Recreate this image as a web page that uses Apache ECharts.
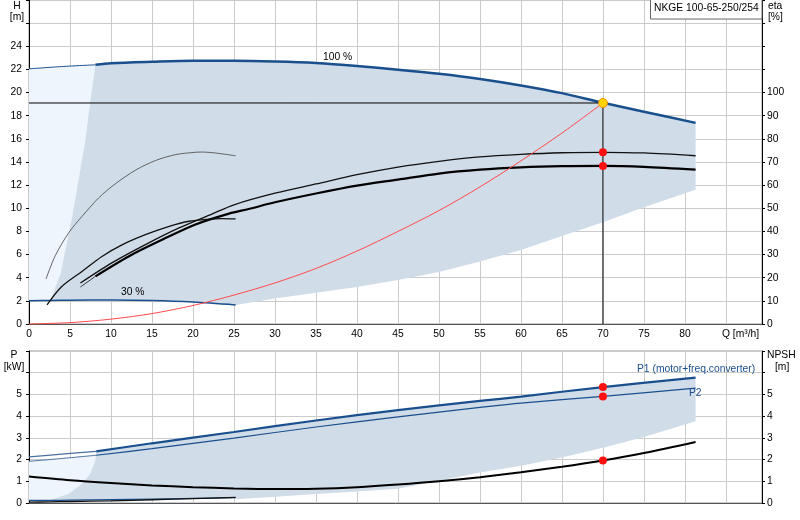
<!DOCTYPE html>
<html>
<head>
    <meta charset="utf-8">
    <style>
        html, body { margin: 0; padding: 0; background: #fff; }
        #chart-container { width: 800px; height: 520px; }
    </style>
</head>
<body>
    <div id="chart-container"></div>

    <script src="https://cdn.jsdelivr.net/npm/echarts@6/dist/echarts.min.js"></script>
    <script>
        // ---- head curves (H in m) ----
        var qHead100 = [0, 4, 8.1, 10, 15, 20, 25, 30, 35, 40, 45, 50, 55, 60, 65, 70, 75, 81.3];
        var head100  = [22.05, 22.25, 22.4, 22.54, 22.66, 22.74, 22.74, 22.68, 22.55, 22.3, 21.98, 21.62, 21.18, 20.62, 19.95, 19.12, 18.35, 17.38];
        var qHead30  = [0, 2.6, 5, 10, 15, 20, 25.2];
        var head30   = [2.02, 2.04, 2.06, 2.07, 2.03, 1.9, 1.65];

        // system curve
        var qSys = [0, 5, 10, 15, 20, 25, 30, 35, 40, 45, 50, 55, 60, 65, 70];
        var hSys = [0, 0.12, 0.42, 0.9, 1.6, 2.5, 3.55, 4.8, 6.3, 8.0, 9.8, 11.85, 14.1, 16.5, 19.1];

        // ---- efficiency curves (eta in %) ----
        var qEtaPump = [6.27, 10.1, 14.2, 18.3, 22.3, 25, 30, 35, 40, 45, 50, 55, 60, 65, 70, 75, 81.3];
        var etaPump  = [17.7, 26.4, 34.3, 41.5, 47.5, 51.5, 56.5, 60.5, 64.5, 67.8, 70.3, 72.2, 73.3, 74.0, 74.2, 73.9, 72.7];
        var qEtaTot  = [6.27, 8.1, 12.2, 16.3, 20.3, 24.4, 26.8, 30, 35, 40, 45, 50, 55, 60, 65, 70, 75, 81.3];
        var etaTot   = [16.0, 20.6, 29.3, 36.5, 43.0, 47.7, 49.7, 52.6, 56.4, 59.8, 62.4, 65.0, 66.7, 67.7, 68.2, 68.3, 67.9, 66.7];
        var qEta30Pump = [2.08, 3.2, 4.84, 6.47, 8.5, 10.5, 13, 15.4, 17.9, 20.3, 21.2, 22.7, 25.2];
        var eta30Pump  = [19.5, 29.5, 39.4, 46.5, 54.5, 60.5, 66.5, 70.6, 73.2, 74.2, 74.3, 73.9, 72.7];
        var qEta30Tot  = [2.2, 4.0, 6.5, 8.9, 11.4, 14.2, 17.1, 19.5, 21.95, 23.5, 25.2];
        var eta30Tot   = [8.3, 16.2, 22.8, 29.2, 34.3, 38.6, 42.2, 44.4, 45.3, 45.5, 45.4];

        // operating range (top)
        var qLeftEdge = [2.6, 3.86, 5.2, 6.88, 7.5, 8.1];
        var hLeftEdge = [2.04, 4.4, 9.0, 15.9, 19.4, 22.4];
        var qLowEdge  = [25.2, 30, 35, 40, 45, 50, 55, 60, 65, 70, 75, 81.3];
        var hLowEdge  = [1.65, 2.2, 2.7, 3.2, 3.8, 4.5, 5.4, 6.4, 7.6, 8.8, 10.1, 11.6];

        // ---- power (kW) and NPSH (m) ----
        var qPow = [0, 4, 8.2, 15, 25, 35, 45, 55, 60, 70, 81.3];
        var p1   = [2.12, 2.25, 2.38, 2.75, 3.27, 3.8, 4.28, 4.7, 4.9, 5.34, 5.77];
        var p2   = [1.92, 2.05, 2.2, 2.5, 2.99, 3.5, 3.97, 4.4, 4.6, 4.91, 5.29];
        var qPow30 = [0, 2.4, 5, 10, 15, 20, 25.2];
        var p1Low  = [0.12, 0.12, 0.13, 0.15, 0.18, 0.21, 0.25];
        var p2Low  = [0.04, 0.05, 0.07, 0.1, 0.15, 0.2, 0.26];
        var qNpsh = [0, 5, 10, 15, 20, 25, 30, 35, 40, 45, 50, 55, 60, 65, 70, 75, 81.3];
        var npsh  = [1.22, 1.05, 0.92, 0.81, 0.73, 0.67, 0.64, 0.66, 0.73, 0.85, 1.0, 1.19, 1.42, 1.67, 1.96, 2.3, 2.81];

        // operating range (bottom)
        var qPowLeft = [2.4, 4.84, 6.47, 7.48, 8.1, 8.2];
        var pPowLeft = [0.12, 0.43, 0.89, 1.35, 1.96, 2.38];
        var qPowLow  = [25.2, 30, 35, 40, 45, 50, 55, 60, 65, 70, 75, 81.3];
        var pPowLow  = [0.17, 0.29, 0.41, 0.53, 0.66, 1.02, 1.4, 1.72, 2.1, 2.55, 3.04, 3.77];

        // duty point
        var dutyQ = 70, dutyH = 19.1;
        var dutyEta = [74.2, 68.3];
        var dutyP = [5.34, 4.91];
        var dutyNpsh = 1.96;

        var blue = '#1a4f8e';
        var font = '"Liberation Sans", Arial, sans-serif';
        var fsize = 10.3;

        function zip(qs, vs) { return qs.map(function (q, i) { return [q, vs[i]]; }); }
        function upTo(qs, vs, qMax) { return zip(qs, vs).filter(function (p) { return p[0] <= qMax; }); }
        function from(qs, vs, qMin) { return zip(qs, vs).filter(function (p) { return p[0] >= qMin; }); }

        function region(points, color, xi, yi) {
            return {
                type: 'custom', xAxisIndex: xi, yAxisIndex: yi, silent: true, z: 1,
                data: [[0, 0]],
                renderItem: function (params, api) {
                    return {
                        type: 'polygon',
                        shape: { points: points.map(function (p) { return api.coord(p); }) },
                        style: { fill: color }
                    };
                }
            };
        }

        function line(data, color, width, xi, yi, z) {
            return {
                type: 'line', data: data, xAxisIndex: xi, yAxisIndex: yi,
                smooth: 0.3, showSymbol: false, silent: true, z: z || 3,
                lineStyle: { color: color, width: width }
            };
        }

        function dots(data, color, border, size, xi, yi) {
            return {
                type: 'scatter', data: data, xAxisIndex: xi, yAxisIndex: yi, z: 6,
                symbolSize: size, silent: true,
                itemStyle: { color: color, borderColor: border, borderWidth: border ? 1 : 0, opacity: 1 }
            };
        }

        // regions
        var topLight = upTo(qHead100, head100, 8.1)
            .concat(zip(qLeftEdge, hLeftEdge).reverse())
            .concat(upTo(qHead30, head30, 2.6).reverse());
        var topDark = zip(qLeftEdge, hLeftEdge)
            .concat(from(qHead100, head100, 8.2))
            .concat(zip(qLowEdge, hLowEdge).reverse())
            .concat(from(qHead30, head30, 2.6).reverse());
        var botLight = upTo(qPow, p2, 8.2)
            .concat(zip(qPowLeft, pPowLeft).reverse().slice(1))
            .concat(upTo(qPow30, p1Low, 2.4).reverse());
        var botDark = zip(qPowLeft, pPowLeft)
            .concat(from(qPow, p1, 8.3))
            .concat(zip(qPowLow, pPowLow).reverse())
            .concat(from(qPow30, p1Low, 2.4).reverse());

        function xAx(grid, labels) {
            return {
                type: 'value', gridIndex: grid, min: 0, max: 89.4, interval: 5,
                axisLine: { onZero: false, lineStyle: { color: '#555', width: 1 } },
                axisTick: { show: false },
                axisLabel: {
                    show: labels, color: '#000', fontSize: fsize, fontFamily: font, margin: 5,
                    formatter: function (v) { return (v <= 80 && v % 5 === 0) ? v : ''; }
                },
                splitLine: { show: true, lineStyle: { color: '#cbcbcb', width: 1 } }
            };
        }
        function yAx(grid, pos, max, step, lastLabel, split) {
            return {
                type: 'value', gridIndex: grid, position: pos, min: 0, max: max, interval: step,
                axisLine: { show: true, onZero: false, lineStyle: { color: '#000', width: 1 } },
                axisTick: { show: true, length: 3, lineStyle: { color: '#000' } },
                axisLabel: {
                    color: '#000', fontSize: fsize, fontFamily: font, margin: pos === 'left' ? 7 : 5,
                    formatter: function (v) { return v <= lastLabel ? v : ''; }
                },
                splitLine: { show: split, lineStyle: { color: '#cbcbcb', width: 1 } }
            };
        }

        function txt(x, y, s, align, color) {
            return {
                type: 'text', x: x, y: y, z: 100,
                style: {
                    text: s, fill: color || '#000', font: fsize + 'px ' + font,
                    textAlign: align || 'left', textVerticalAlign: 'middle'
                }
            };
        }

        var myChart = echarts.init(document.getElementById('chart-container'));
        var option = {
            animation: false,
            grid: [
                { left: 29, top: 0, width: 733, height: 324, show: true, borderColor: '#999', borderWidth: 1 },
                { left: 29, top: 351, width: 733, height: 152, show: true, borderColor: '#999', borderWidth: 1 }
            ],
            xAxis: [xAx(0, true), xAx(1, false)],
            yAxis: [
                yAx(0, 'left', 28, 2, 24, true),
                yAx(0, 'right', 140, 10, 100, false),
                yAx(1, 'left', 7, 1, 5, true),
                yAx(1, 'right', 7, 1, 5, false)
            ],
            graphic: [
                txt(17, 6, 'H', 'center'),
                txt(17, 17, '[m]', 'center'),
                txt(768, 6, 'eta', 'left'),
                txt(768, 17, '[%]', 'left'),
                txt(722, 334, 'Q [m\u00b3/h]', 'left'),
                txt(14, 355, 'P', 'center'),
                txt(14, 367, '[kW]', 'center'),
                txt(767, 355, 'NPSH', 'left'),
                txt(775, 367, '[m]', 'left'),
                txt(323, 57, '100 %', 'left'),
                txt(121, 292, '30 %', 'left'),
                txt(637, 369, 'P1 (motor+freq.converter)', 'left', blue),
                txt(689, 393, 'P2', 'left', blue),
                {
                    type: 'rect', z: 99,
                    shape: { x: 650.5, y: -0.5, width: 111.5, height: 19.5 },
                    style: { fill: '#fff', stroke: '#666', lineWidth: 1 }
                },
                txt(654, 8, 'NKGE 100-65-250/254', 'left')
            ],
            series: [
                region(topLight, '#eef5fc', 0, 0),
                region(topDark, '#d0dce8', 0, 0),
                region(botLight, '#eef5fc', 1, 2),
                region(botDark, '#d0dce8', 1, 2),

                // head
                line(upTo(qHead100, head100, 8.1), blue, 1, 0, 0),
                line(from(qHead100, head100, 8.1), blue, 2.5, 0, 0),
                line(zip(qHead30, head30), blue, 1.5, 0, 0),
                line(zip(qSys, hSys), '#ff4a4a', 1, 0, 0, 4),
                {
                    type: 'line', xAxisIndex: 0, yAxisIndex: 0, z: 4, silent: true, showSymbol: false,
                    data: [[0, dutyH], [dutyQ, dutyH], [dutyQ, 0]],
                    lineStyle: { color: '#000', width: 1 }
                },

                // efficiency
                line(zip(qEtaPump, etaPump), '#111', 1.3, 0, 1),
                line(upTo(qEtaTot, etaTot, 8.1), '#333', 1, 0, 1),
                line(from(qEtaTot, etaTot, 8.1), '#000', 2.2, 0, 1),
                line(zip(qEta30Pump, eta30Pump), '#555', 0.9, 0, 1),
                line(zip(qEta30Tot, eta30Tot), '#111', 1.3, 0, 1),

                // power and NPSH
                line(upTo(qPow, p1, 8.2), '#4a6f9e', 1.2, 1, 2),
                line(from(qPow, p1, 8.2), blue, 2.2, 1, 2),
                line(upTo(qPow, p2, 8.2), '#4a6f9e', 1, 1, 2),
                line(from(qPow, p2, 8.2), blue, 1.2, 1, 2),
                line(zip(qPow30, p1Low), blue, 1.3, 1, 2),
                line(zip(qPow30, p2Low), '#111', 1.3, 1, 2),
                line(zip(qNpsh, npsh), '#000', 2, 1, 3),

                // duty points
                dots(dutyEta.map(function (e) { return [dutyQ, e]; }), '#ff1010', null, 8, 0, 1),
                dots([[dutyQ, dutyH]], '#ffd400', '#f08c00', 9, 0, 0),
                dots(dutyP.map(function (p) { return [dutyQ, p]; }), '#ff1010', null, 8, 1, 2),
                dots([[dutyQ, dutyNpsh]], '#ff1010', null, 8, 1, 3)
            ]
        };
        myChart.setOption(option);
    </script>
</body>
</html>
